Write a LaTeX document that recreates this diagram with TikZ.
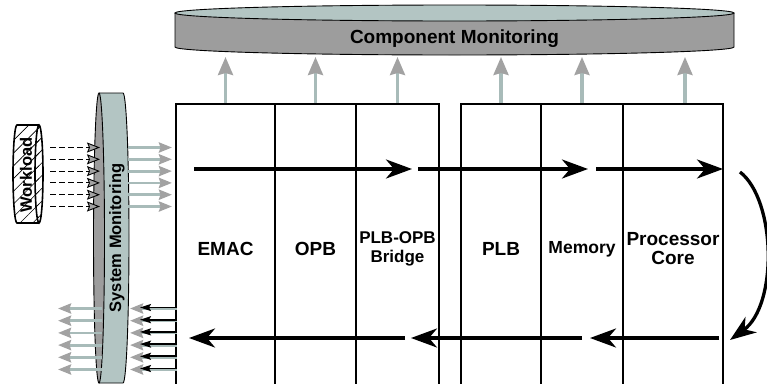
\documentclass[tikz,border=0pt]{standalone}
\usepackage{fontspec}
\setmainfont{Liberation Sans}
\usetikzlibrary{arrows.meta,patterns.meta}

\definecolor{monface}{HTML}{B3C5C3}
\definecolor{monbody}{HTML}{9D9D9D}
\definecolor{shaft}{HTML}{A8BBB9}
\definecolor{tipgray}{HTML}{A2A2A2}

\begin{document}
\begin{tikzpicture}[x=1pt,y=-1pt,>=latex,
    cell/.style={draw,line width=2.8pt,minimum width=#1,minimum height=290pt,inner sep=0pt,
        align=center,font=\bfseries\fontsize{19}{19}\selectfont},
    monlabel/.style={inner sep=0pt,font=\bfseries\fontsize{16.5}{16}\selectfont},
    flow/.style={line width=3.3pt,-{Stealth[length=26pt,width=19pt,inset=8pt]}},
    uparrow/.style={shaft,line width=3.2pt,-{Stealth[length=18pt,width=15pt,inset=2pt,color=tipgray]}},
    feed/.style={shaft,line width=2.8pt,-{Stealth[length=13pt,width=10pt,inset=1.5pt,color=tipgray]}},
    retn/.style={line width=1.8pt,-{Stealth[length=11pt,width=7pt,inset=2pt]}},
    load/.style={line width=0.9pt,dash pattern=on 5.5pt off 3.5pt,
        -{Stealth[length=13pt,width=10pt,inset=2pt,fill=tipgray]}}]
    \useasboundingbox (0,0) rectangle (767,383);
    \clip (0,0) rectangle (767,383);

    % Component Monitoring
    \filldraw[fill=monbody,line width=0.9pt] (175,13) -- (175,47)
        arc[start angle=180,end angle=0,x radius=279.5,y radius=8] -- (734,13);
    \filldraw[fill=monface,line width=0.9pt] (454.5,13) ellipse[x radius=279.5,y radius=8];
    \node[monlabel,font=\bfseries\fontsize{19}{18}\selectfont] (compmon) at (454.5,39) {Component Monitoring};
    \coordinate (cmbase) at (454.5,57);

    % System Monitoring
    \filldraw[fill=monface,line width=0.9pt] (99,93) -- (123,93)
        arc[start angle=-90,end angle=90,x radius=6,y radius=145] -- (99,383);
    \filldraw[fill=monbody,line width=0.9pt] (99,238) ellipse[x radius=5.5,y radius=145];
    \node[monlabel,rotate=90] (sysmon) at (117,238) {System Monitoring};

    % Workload
    \draw[pattern={Lines[angle=45,distance=9pt,line width=0.6pt]},line width=1.6pt] (39,125) -- (17,125)
        arc[start angle=-90,end angle=-270,x radius=4,y radius=49] -- (39,223);
    \draw[pattern={Lines[angle=45,distance=9pt,line width=0.6pt]},line width=1.6pt] (39,174) ellipse[x radius=4,y radius=49];
    \node[monlabel,rotate=90] (workload) at (26,175) {Workload};

    % Components
    \node[cell=99pt]  (emac)   at (225.5,249) {EMAC};
    \node[cell=81pt]  (opb)    at (315.5,249) {OPB};
    \node[cell=83pt,font=\bfseries\fontsize{17}{19}\selectfont] (bridge) at (397.5,249) {PLB-OPB\\Bridge};
    \node[cell=80pt]  (plb)    at (501,249)   {PLB};
    \node[cell=82pt,font=\bfseries\fontsize{17.5}{17}\selectfont] (memory) at (582,249) {Memory};
    \node[cell=100pt] (core)   at (673,249)   {Processor\\Core};

    % Monitor taps
    \foreach \n in {emac,opb,bridge,plb,memory}
        \draw[uparrow] (\n.north) -- (\n.north |- cmbase);
    \draw[uparrow] ([xshift=12pt]core.north) -- ([xshift=12pt]core.north |- cmbase);

    % Request and response path
    \coordinate (f1) at (194,169);
    \coordinate (f2) at (412,169);
    \coordinate (f3) at (418,169);
    \coordinate (f4) at (588,169);
    \coordinate (f5) at (596,169);
    \coordinate (f6) at (723,169);
    \coordinate (b1) at (719,338);
    \coordinate (b2) at (590,338);
    \coordinate (b3) at (582,338);
    \coordinate (b4) at (411,338);
    \coordinate (b5) at (405,338);
    \coordinate (b6) at (189,338);
    \coordinate (turn1) at (740,172);
    \coordinate (turn2) at (730,340);
    \draw[flow] (f1) -- (f2);
    \draw[flow] (f3) -- (f4);
    \draw[flow] (f5) -- (f6);
    \draw[flow] (turn1) .. controls (776,200) and (778,305) .. (turn2);
    \draw[flow] (b1) -- (b2);
    \draw[flow] (b3) -- (b4);
    \draw[flow] (b5) -- (b6);

    % Workload feed
    \foreach \i in {0,...,5} {
        \path (50,{147.5+11.8*\i}) coordinate (w\i) (100,{147.5+11.8*\i}) coordinate (s\i)
              (128,{147.5+11.8*\i}) coordinate (m\i) (172,{147.5+11.8*\i}) coordinate (e\i);
        \draw[load] (w\i) -- (s\i);
        \draw[feed] (m\i) -- (e\i);
    }

    % Responses out
    \foreach \i in {0,...,5} {
        \path (177,{308.5+12.2*\i}) coordinate (o\i) (130,{308.5+12.2*\i}) coordinate (p\i)
              (177,{307.5+12.2*\i}) coordinate (q\i) (140,{307.5+12.2*\i}) coordinate (t\i)
              (102,{308.5+12.2*\i}) coordinate (u\i) (58,{308.5+12.2*\i}) coordinate (v\i);
        \draw[feed] (o\i) -- (p\i);
        \draw[retn] (q\i) -- (t\i);
        \draw[feed] (u\i) -- (v\i);
    }
\end{tikzpicture}
\end{document}
